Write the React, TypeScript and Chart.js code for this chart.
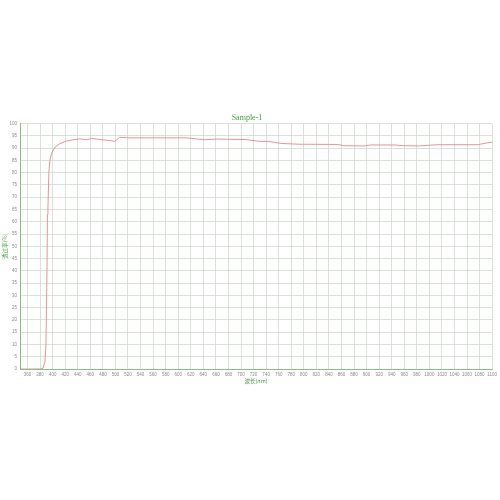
import { useEffect, useRef } from "react"
import { Chart, registerables } from "chart.js"

Chart.register(...registerables)

// wavelength (nm) and transmittance (%)
const wavelengths = [
  348, 380, 384.6, 387.7, 389.3, 391, 391.7, 392.5, 394, 395.7, 398.4, 403.6, 411.5, 422, 435,
  443, 454, 462, 475, 491, 499, 506.6, 522, 554, 613, 622, 641, 660, 708, 728, 744, 765, 792,
  855, 863, 898, 906, 945, 958, 982, 1014, 1077, 1093, 1100,
]
const transmittance = [
  0, 0, 0.3, 3, 10, 40, 63, 66, 80, 85, 88, 90.4, 91.8, 92.9, 93.5,
  93.8, 93.4, 94, 93.5, 93.1, 92.8, 94.4, 94.2, 94.2, 94.2, 94, 93.4, 93.7, 93.5, 92.8, 92.7, 91.9, 91.6,
  91.5, 91, 90.9, 91.3, 91.3, 91, 90.9, 91.4, 91.4, 92.2, 92.4,
]
const xTicks = Array.from({ length: 38 }, (_, i) => 360 + i * 20)

const GRID = "#cfd9cf"
const AXIS = "#86c086"
const LABEL = "#8a8a8a"
const GREEN = "#3f9f3f"

export default function App() {
  const chartRef = useRef<HTMLCanvasElement>(null)
  const chartInstance = useRef<Chart | null>(null)

  useEffect(() => {
    if (!chartRef.current) return
    const ctx = chartRef.current.getContext("2d")
    if (!ctx) return
    if (chartInstance.current) chartInstance.current.destroy()

    chartInstance.current = new Chart(ctx, {
      type: "line",
      data: {
        datasets: [
          {
            label: "Sample-1",
            data: wavelengths.map((w, i) => ({ x: w, y: transmittance[i] })),
            borderColor: "#e8868c",
            borderWidth: 0.9,
            pointRadius: 0,
            tension: 0,
            fill: false,
          },
        ],
      },
      options: {
        animation: false,
        responsive: true,
        maintainAspectRatio: false,
        layout: { padding: { top: 113, right: 6, bottom: 114, left: 0 } },
        plugins: {
          legend: { display: false },
          tooltip: { enabled: false },
          title: {
            display: true,
            text: "Sample-1",
            color: GREEN,
            font: { family: "Liberation Serif", size: 8, weight: "normal" },
            padding: { top: 0, bottom: 1 },
          },
        },
        scales: {
          x: {
            type: "linear",
            min: 348,
            max: 1100,
            afterBuildTicks: (scale) => {
              scale.ticks = xTicks.map((v) => ({ value: v }))
            },
            afterFit: (scale) => {
              scale.height = 17
            },
            grid: { color: GRID, lineWidth: 0.8, drawTicks: false },
            border: { color: AXIS, width: 1 },
            ticks: {
              color: LABEL,
              font: { family: "Liberation Sans", size: 4.5 },
              padding: 3,
              maxRotation: 0,
              autoSkip: false,
              callback: (v) => String(v),
            },
            title: {
              display: true,
              text: "波长(nm)",
              color: GREEN,
              font: { family: "Noto Sans CJK SC", size: 5.5 },
              padding: { top: 0, bottom: 2 },
            },
          },
          y: {
            min: 0,
            max: 100,
            afterFit: (scale) => {
              scale.width = 20
            },
            grid: { color: GRID, lineWidth: 0.8, drawTicks: false },
            border: { color: AXIS, width: 1 },
            ticks: {
              stepSize: 5,
              color: LABEL,
              font: { family: "Liberation Sans", size: 4.5 },
              padding: 3,
              autoSkip: false,
            },
            title: {
              display: true,
              text: "透过率(%)",
              color: GREEN,
              font: { family: "Noto Sans CJK SC", size: 5.5 },
              padding: { top: 2, bottom: 0 },
            },
          },
        },
      },
    })

    return () => {
      if (chartInstance.current) {
        chartInstance.current.destroy()
        chartInstance.current = null
      }
    }
  }, [])

  return (
    <div style={{ position: "absolute", left: 0, top: 0, width: 500, height: 500, background: "#fff" }}>
      <canvas ref={chartRef} />
    </div>
  )
}
